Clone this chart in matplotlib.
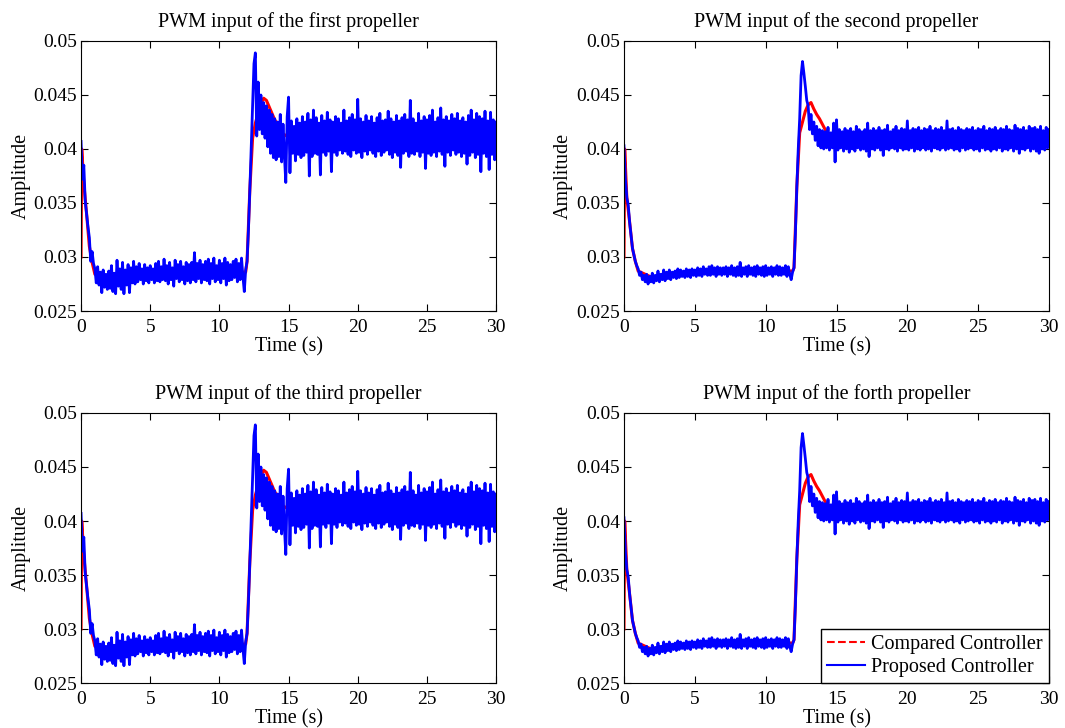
import numpy as np
import matplotlib
matplotlib.use("Agg")
import matplotlib.pyplot as plt
from matplotlib.lines import Line2D
from matplotlib.ticker import FormatStrFormatter

plt.rcParams['font.family'] = ['Liberation Serif', 'DejaVu Serif']

titles = ["PWM input of the first propeller", "PWM input of the second propeller",
          "PWM input of the third propeller", "PWM input of the forth propeller"]
legend_labels = ["Compared Controller", "Proposed Controller"]

time_prop = np.arange(301) / 10.0

prop_first = [
    0.0407, 0.0372, 0.0385, 0.0352, 0.0340, 0.0328, 0.0318, 0.0296, 0.0305, 0.0294,
    0.0289, 0.0276, 0.0291, 0.0274, 0.0286, 0.0267, 0.0288, 0.0272, 0.0284, 0.0270,
    0.0287, 0.0271, 0.0292, 0.0268, 0.0285, 0.0266, 0.0297, 0.0273, 0.0289, 0.0270,
    0.0295, 0.0266, 0.0288, 0.0274, 0.0293, 0.0267, 0.0290, 0.0276, 0.0296, 0.0275,
    0.0291, 0.0277, 0.0294, 0.0279, 0.0289, 0.0275, 0.0293, 0.0278, 0.0290, 0.0276,
    0.0292, 0.0279, 0.0289, 0.0276, 0.0294, 0.0278, 0.0296, 0.0277, 0.0291, 0.0279,
    0.0298, 0.0278, 0.0292, 0.0275, 0.0295, 0.0279, 0.0290, 0.0273, 0.0297, 0.0280,
    0.0293, 0.0277, 0.0296, 0.0279, 0.0291, 0.0275, 0.0295, 0.0278, 0.0293, 0.0276,
    0.0295, 0.0279, 0.0304, 0.0277, 0.0294, 0.0280, 0.0297, 0.0276, 0.0293, 0.0279,
    0.0296, 0.0278, 0.0298, 0.0275, 0.0294, 0.0280, 0.0299, 0.0277, 0.0292, 0.0279,
    0.0297, 0.0276, 0.0294, 0.0280, 0.0299, 0.0274, 0.0295, 0.0278, 0.0293, 0.0279,
    0.0296, 0.0281, 0.0298, 0.0277, 0.0294, 0.0279, 0.0299, 0.0282, 0.0268, 0.0288,
    0.0296, 0.0325, 0.0362, 0.0402, 0.0440, 0.0479, 0.0489, 0.0412, 0.0462, 0.0418,
    0.0450, 0.0414, 0.0443, 0.0410, 0.0440, 0.0402, 0.0436, 0.0396, 0.0432, 0.0392,
    0.0428, 0.0390, 0.0425, 0.0393, 0.0432, 0.0388, 0.0423, 0.0394, 0.0369, 0.0430,
    0.0448, 0.0378, 0.0426, 0.0396, 0.0421, 0.0389, 0.0428, 0.0395, 0.0424, 0.0392,
    0.0430, 0.0394, 0.0425, 0.0397, 0.0433, 0.0375, 0.0427, 0.0393, 0.0436, 0.0396,
    0.0429, 0.0395, 0.0424, 0.0376, 0.0431, 0.0397, 0.0426, 0.0394, 0.0434, 0.0398,
    0.0427, 0.0379, 0.0425, 0.0397, 0.0430, 0.0394, 0.0428, 0.0399, 0.0424, 0.0396,
    0.0436, 0.0398, 0.0426, 0.0395, 0.0429, 0.0393, 0.0432, 0.0399, 0.0427, 0.0396,
    0.0446, 0.0397, 0.0428, 0.0392, 0.0425, 0.0398, 0.0431, 0.0395, 0.0426, 0.0399,
    0.0430, 0.0396, 0.0424, 0.0393, 0.0429, 0.0398, 0.0433, 0.0394, 0.0426, 0.0397,
    0.0427, 0.0399, 0.0435, 0.0395, 0.0428, 0.0392, 0.0425, 0.0397, 0.0431, 0.0394,
    0.0426, 0.0383, 0.0429, 0.0396, 0.0432, 0.0398, 0.0427, 0.0393, 0.0445, 0.0396,
    0.0428, 0.0395, 0.0424, 0.0398, 0.0433, 0.0393, 0.0426, 0.0397, 0.0430, 0.0382,
    0.0427, 0.0396, 0.0431, 0.0394, 0.0436, 0.0397, 0.0425, 0.0393, 0.0429, 0.0398,
    0.0438, 0.0395, 0.0427, 0.0384, 0.0430, 0.0397, 0.0426, 0.0394, 0.0432, 0.0399,
    0.0428, 0.0395, 0.0433, 0.0397, 0.0426, 0.0393, 0.0429, 0.0396, 0.0425, 0.0386,
    0.0431, 0.0394, 0.0436, 0.0397, 0.0427, 0.0392, 0.0433, 0.0395, 0.0430, 0.0379,
    0.0428, 0.0396, 0.0435, 0.0393, 0.0426, 0.0381, 0.0434, 0.0395, 0.0427, 0.0390,
    0.0425,
]

prop_second = [
    0.0403, 0.0372, 0.0355, 0.0348, 0.0332, 0.0320, 0.0308, 0.0302, 0.0296, 0.0292,
    0.0289, 0.0283, 0.0286, 0.0279, 0.0283, 0.0277, 0.0284, 0.0275, 0.0282, 0.0277,
    0.0285, 0.0276, 0.0283, 0.0278, 0.0287, 0.0277, 0.0284, 0.0279, 0.0288, 0.0278,
    0.0286, 0.0280, 0.0288, 0.0279, 0.0286, 0.0281, 0.0287, 0.0280, 0.0289, 0.0281,
    0.0288, 0.0282, 0.0287, 0.0281, 0.0289, 0.0282, 0.0288, 0.0281, 0.0289, 0.0283,
    0.0288, 0.0282, 0.0290, 0.0283, 0.0289, 0.0282, 0.0291, 0.0284, 0.0289, 0.0283,
    0.0291, 0.0283, 0.0292, 0.0284, 0.0290, 0.0282, 0.0291, 0.0284, 0.0290, 0.0283,
    0.0290, 0.0284, 0.0291, 0.0282, 0.0290, 0.0284, 0.0292, 0.0283, 0.0290, 0.0282,
    0.0291, 0.0283, 0.0295, 0.0282, 0.0290, 0.0284, 0.0291, 0.0282, 0.0292, 0.0284,
    0.0290, 0.0283, 0.0291, 0.0282, 0.0292, 0.0284, 0.0290, 0.0283, 0.0291, 0.0282,
    0.0292, 0.0283, 0.0290, 0.0284, 0.0291, 0.0282, 0.0290, 0.0284, 0.0292, 0.0283,
    0.0291, 0.0283, 0.0290, 0.0284, 0.0292, 0.0282, 0.0291, 0.0284, 0.0279, 0.0286,
    0.0290, 0.0322, 0.0365, 0.0400, 0.0428, 0.0468, 0.0481, 0.0470, 0.0458, 0.0445,
    0.0440, 0.0418, 0.0432, 0.0414, 0.0425, 0.0408, 0.0421, 0.0403, 0.0418, 0.0401,
    0.0417, 0.0400, 0.0416, 0.0401, 0.0420, 0.0399, 0.0415, 0.0401, 0.0424, 0.0388,
    0.0427, 0.0399, 0.0418, 0.0401, 0.0416, 0.0398, 0.0419, 0.0400, 0.0417, 0.0397,
    0.0419, 0.0400, 0.0416, 0.0398, 0.0421, 0.0401, 0.0418, 0.0399, 0.0416, 0.0400,
    0.0418, 0.0398, 0.0424, 0.0393, 0.0417, 0.0400, 0.0419, 0.0399, 0.0417, 0.0401,
    0.0420, 0.0399, 0.0417, 0.0394, 0.0418, 0.0400, 0.0422, 0.0399, 0.0416, 0.0401,
    0.0418, 0.0400, 0.0421, 0.0398, 0.0417, 0.0401, 0.0419, 0.0399, 0.0418, 0.0400,
    0.0426, 0.0399, 0.0417, 0.0401, 0.0419, 0.0398, 0.0418, 0.0400, 0.0420, 0.0399,
    0.0417, 0.0401, 0.0419, 0.0399, 0.0418, 0.0400, 0.0421, 0.0398, 0.0417, 0.0401,
    0.0419, 0.0400, 0.0418, 0.0399, 0.0420, 0.0401, 0.0417, 0.0399, 0.0426, 0.0400,
    0.0418, 0.0401, 0.0419, 0.0399, 0.0417, 0.0400, 0.0420, 0.0398, 0.0418, 0.0401,
    0.0417, 0.0399, 0.0419, 0.0400, 0.0418, 0.0401, 0.0420, 0.0399, 0.0417, 0.0400,
    0.0419, 0.0398, 0.0418, 0.0401, 0.0421, 0.0399, 0.0417, 0.0400, 0.0419, 0.0398,
    0.0418, 0.0400, 0.0420, 0.0399, 0.0417, 0.0401, 0.0419, 0.0398, 0.0418, 0.0400,
    0.0421, 0.0399, 0.0418, 0.0401, 0.0417, 0.0398, 0.0422, 0.0400, 0.0419, 0.0396,
    0.0418, 0.0400, 0.0420, 0.0399, 0.0417, 0.0401, 0.0421, 0.0398, 0.0419, 0.0400,
    0.0420, 0.0398, 0.0418, 0.0396, 0.0421, 0.0400, 0.0417, 0.0399, 0.0420, 0.0401,
    0.0418,
]

# the third and fourth traces look identical to the first and second ones
prop_third = prop_first
prop_forth = prop_second

# compared controller, mostly hidden under the blue trace except the transient
time_cmp = [0, 0.05, 0.2, 0.4, 0.6, 0.8, 1.0, 2, 4, 8, 11.9, 12.0, 12.2, 12.4, 12.6,
            12.8, 13.0, 13.2, 13.4, 13.6, 13.8, 14.0, 14.2, 14.4, 14.6, 15, 20, 25, 30]
cmp_first = [0.0300, 0.0400, 0.0368, 0.0340, 0.0310, 0.0295, 0.0284, 0.0282, 0.0284,
             0.0285, 0.0286, 0.0296, 0.0362, 0.0410, 0.0424, 0.0433, 0.0442, 0.0447,
             0.0445, 0.0439, 0.0433, 0.0427, 0.0423, 0.0419, 0.0414, 0.0411, 0.0411,
             0.0411, 0.0411]
cmp_second = [0.0300, 0.0400, 0.0355, 0.0332, 0.0308, 0.0296, 0.0287, 0.0281, 0.0285,
              0.0287, 0.0287, 0.0290, 0.0365, 0.0415, 0.0425, 0.0435, 0.0441, 0.0443,
              0.0437, 0.0432, 0.0428, 0.0423, 0.0418, 0.0414, 0.0410, 0.0409, 0.0409,
              0.0409, 0.0409]
cmp_third = cmp_first
cmp_forth = cmp_second

proposed = [prop_first, prop_second, prop_third, prop_forth]
compared = [cmp_first, cmp_second, cmp_third, cmp_forth]

fig = plt.figure(figsize=(10.65, 7.28), dpi=100)
boxes = [(0.0761, 0.5728, 0.3897, 0.3709), (0.5859, 0.5728, 0.3991, 0.3709),
         (0.0761, 0.0618, 0.3897, 0.3709), (0.5859, 0.0618, 0.3991, 0.3709)]

for i in range(4):
    ax = fig.add_axes(boxes[i])
    ax.plot(time_cmp, compared[i], color='red', lw=2.2)
    ax.plot(time_prop, proposed[i], color='blue', lw=2.0)
    ax.set_xlim(0, 30)
    ax.set_ylim(0.025, 0.05)
    ax.set_xticks([0, 5, 10, 15, 20, 25, 30])
    ax.set_yticks([0.025, 0.03, 0.035, 0.04, 0.045, 0.05])
    ax.yaxis.set_major_formatter(FormatStrFormatter('%g'))
    ax.tick_params(direction='in', top=True, right=True, labelsize=14, length=5)
    ax.tick_params(axis='x', pad=6)
    ax.tick_params(axis='y', pad=3)
    ax.set_title(titles[i], fontsize=14.5, pad=10)
    ax.set_xlabel("Time (s)", fontsize=14.5, labelpad=1)
    ax.set_ylabel("Amplitude", fontsize=14.5, labelpad=2)
    if i == 3:
        handles = [Line2D([], [], color='red', lw=1.5, ls='--'),
                   Line2D([], [], color='blue', lw=1.5)]
        leg = ax.legend(handles, legend_labels, loc='lower right', fontsize=14.5,
                        borderaxespad=0, fancybox=False, handlelength=1.9,
                        handletextpad=0.3, framealpha=1, borderpad=0.3,
                        labelspacing=0.2)
        leg.get_frame().set_edgecolor('black')
        leg.get_frame().set_linewidth(1.0)

fig.savefig("out.png", dpi=100)
